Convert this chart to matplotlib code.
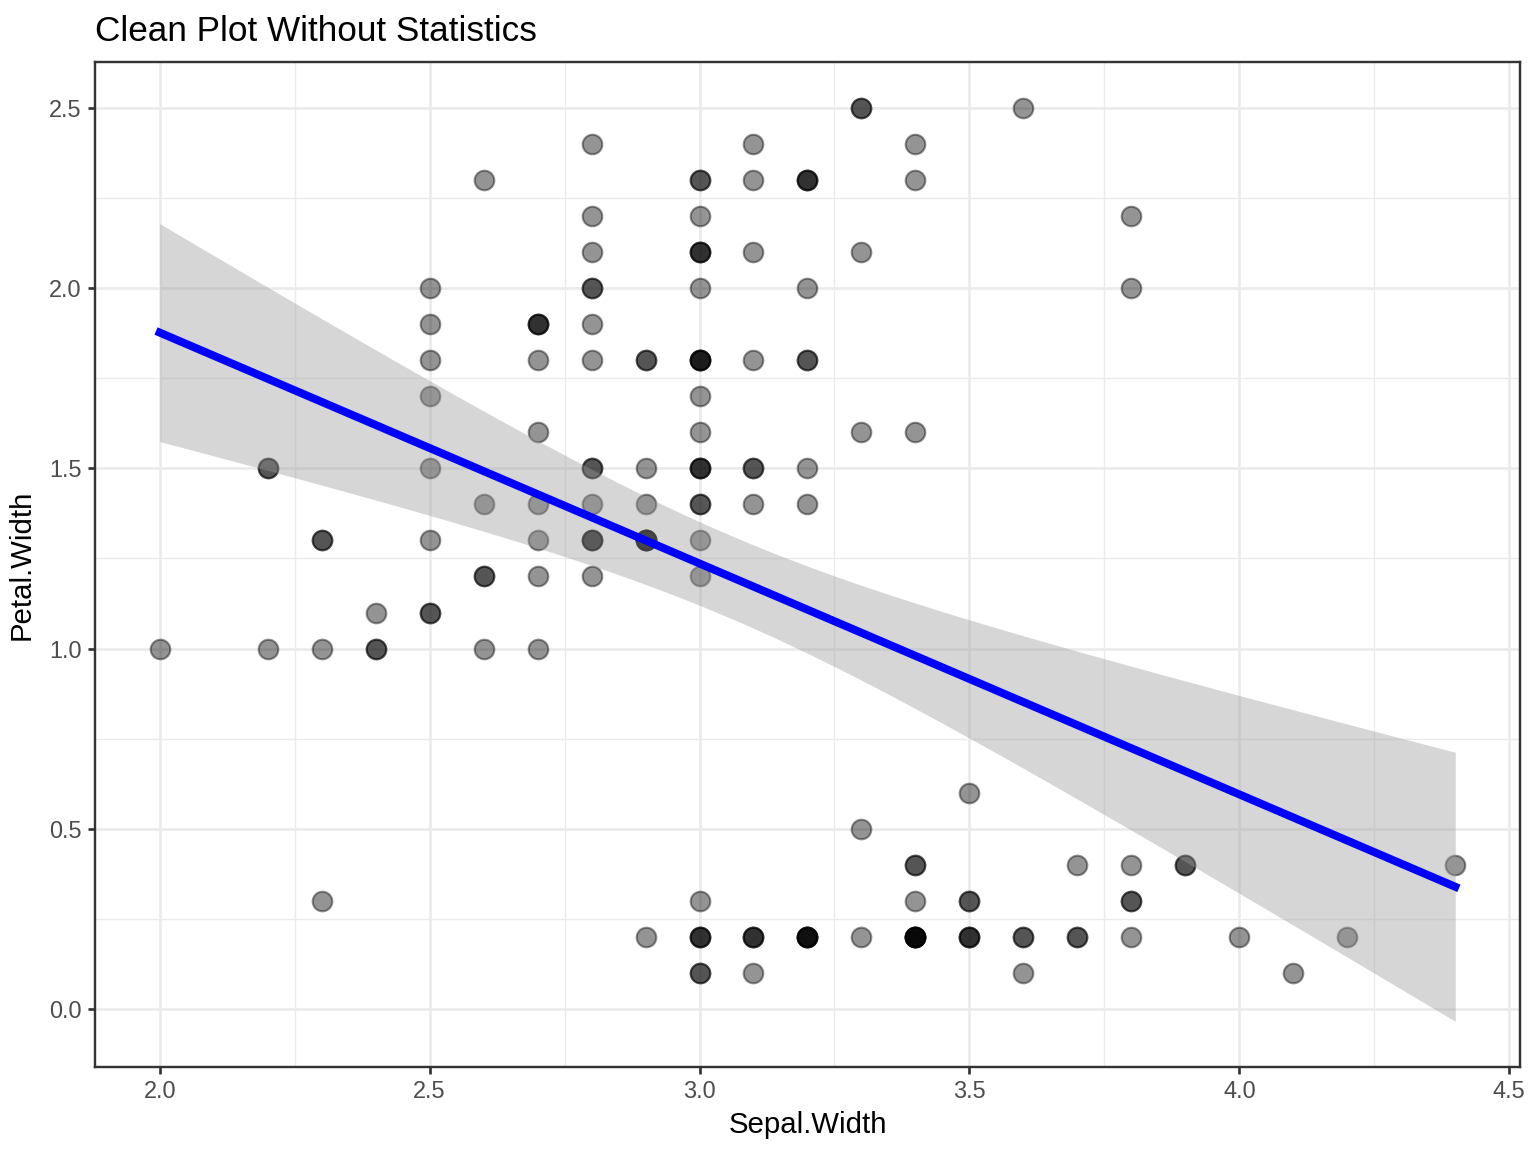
import matplotlib.pyplot as plt
import numpy as np

plt.rcParams['font.family'] = ['Liberation Sans', 'DejaVu Sans']

# iris: Sepal.Width and Petal.Width (150 rows, setosa / versicolor / virginica)
sepal_width = [
    3.5, 3.0, 3.2, 3.1, 3.6, 3.9, 3.4, 3.4, 2.9, 3.1, 3.7, 3.4, 3.0, 3.0, 4.0, 4.4, 3.9, 3.5, 3.8, 3.8,
    3.4, 3.7, 3.6, 3.3, 3.4, 3.0, 3.4, 3.5, 3.4, 3.2, 3.1, 3.4, 4.1, 4.2, 3.1, 3.2, 3.5, 3.6, 3.0, 3.4,
    3.5, 2.3, 3.2, 3.5, 3.8, 3.0, 3.8, 3.2, 3.7, 3.3,
    3.2, 3.2, 3.1, 2.3, 2.8, 2.8, 3.3, 2.4, 2.9, 2.7, 2.0, 3.0, 2.2, 2.9, 2.9, 3.1, 3.0, 2.7, 2.2, 2.5,
    3.2, 2.8, 2.5, 2.8, 2.9, 3.0, 2.8, 3.0, 2.9, 2.6, 2.4, 2.4, 2.7, 2.7, 3.0, 3.4, 3.1, 2.3, 3.0, 2.5,
    2.6, 3.0, 2.6, 2.3, 2.7, 3.0, 2.9, 2.9, 2.5, 2.8,
    3.3, 2.7, 3.0, 2.9, 3.0, 3.0, 2.5, 2.9, 2.5, 3.6, 3.2, 2.7, 3.0, 2.5, 2.8, 3.2, 3.0, 3.8, 2.6, 2.2,
    3.2, 2.8, 2.8, 2.7, 3.3, 3.2, 2.8, 3.0, 2.8, 3.0, 2.8, 3.8, 2.8, 2.8, 2.6, 3.0, 3.4, 3.1, 3.0, 3.1,
    3.1, 3.1, 2.7, 3.2, 3.3, 3.0, 2.5, 3.0, 3.4, 3.0,
]
petal_width = [
    0.2, 0.2, 0.2, 0.2, 0.2, 0.4, 0.3, 0.2, 0.2, 0.1, 0.2, 0.2, 0.1, 0.1, 0.2, 0.4, 0.4, 0.3, 0.3, 0.3,
    0.2, 0.4, 0.2, 0.5, 0.2, 0.2, 0.4, 0.2, 0.2, 0.2, 0.2, 0.4, 0.1, 0.2, 0.2, 0.2, 0.2, 0.1, 0.2, 0.2,
    0.3, 0.3, 0.2, 0.6, 0.4, 0.3, 0.2, 0.2, 0.2, 0.2,
    1.4, 1.5, 1.5, 1.3, 1.5, 1.3, 1.6, 1.0, 1.3, 1.4, 1.0, 1.5, 1.0, 1.4, 1.3, 1.4, 1.5, 1.0, 1.5, 1.1,
    1.8, 1.3, 1.5, 1.2, 1.3, 1.4, 1.4, 1.7, 1.5, 1.0, 1.1, 1.0, 1.2, 1.6, 1.5, 1.6, 1.5, 1.3, 1.3, 1.3,
    1.2, 1.4, 1.2, 1.0, 1.3, 1.2, 1.3, 1.3, 1.1, 1.3,
    2.5, 1.9, 2.1, 1.8, 2.2, 2.1, 1.7, 1.8, 1.8, 2.5, 2.0, 1.9, 2.1, 2.0, 2.4, 2.3, 1.8, 2.2, 2.3, 1.5,
    2.3, 2.0, 2.0, 1.8, 2.1, 1.8, 1.8, 1.8, 2.1, 1.6, 1.9, 2.0, 2.2, 1.5, 1.4, 2.3, 2.4, 1.8, 1.8, 2.1,
    2.4, 2.3, 1.9, 2.3, 2.5, 2.3, 1.9, 2.0, 2.3, 1.8,
]

x = np.array(sepal_width)
y = np.array(petal_width)
n = len(x)

# linear fit with 95% confidence band (like geom_smooth(method = "lm"))
slope, intercept = np.polyfit(x, y, 1)
resid = y - (intercept + slope * x)
s = np.sqrt(np.sum(resid ** 2) / (n - 2))
t_crit = 1.9761  # t(0.975, df = 148)
xs = np.linspace(x.min(), x.max(), 80)
ys = intercept + slope * xs
se = s * np.sqrt(1 / n + (xs - x.mean()) ** 2 / np.sum((x - x.mean()) ** 2))
lo = ys - t_crit * se
hi = ys + t_crit * se

fig = plt.figure(figsize=(8, 6), dpi=192)
ax = fig.add_axes([0.0618, 0.0738, 0.9278, 0.8724])

ax.scatter(x, y, s=54, facecolor='black', edgecolor='black', linewidths=0.8,
           alpha=0.42, zorder=2)
# ribbon drawn over the points, as ggplot does
ax.fill_between(xs, lo, hi, color='#999999', alpha=0.4, linewidth=0, zorder=3)
ax.plot(xs, ys, color='blue', linewidth=3.0, zorder=4)

# limits with ggplot-style 5% expansion
xmin, xmax = x.min(), x.max()
ymin, ymax = min(y.min(), lo.min()), max(y.max(), hi.max())
ax.set_xlim(xmin - 0.05 * (xmax - xmin), xmax + 0.05 * (xmax - xmin))
ax.set_ylim(ymin - 0.05 * (ymax - ymin), ymax + 0.05 * (ymax - ymin))

xt = [2.0, 2.5, 3.0, 3.5, 4.0, 4.5]
yt = [0.0, 0.5, 1.0, 1.5, 2.0, 2.5]
ax.set_xticks(xt)
ax.set_yticks(yt)
ax.set_xticklabels([f'{v:.1f}' for v in xt])
ax.set_yticklabels([f'{v:.1f}' for v in yt])
ax.set_xticks(np.arange(2.25, 4.5, 0.5), minor=True)
ax.set_yticks(np.arange(0.25, 2.5, 0.5), minor=True)

ax.grid(which='major', color='#ebebeb', linewidth=1.0, zorder=0)
ax.grid(which='minor', color='#ebebeb', linewidth=0.5, zorder=0)
ax.set_axisbelow(True)

ax.tick_params(which='major', length=2.75, width=1.0, color='#333333',
               labelsize=8.8, labelcolor='#4d4d4d', pad=2.2)
ax.tick_params(which='minor', length=0)
for sp in ax.spines.values():
    sp.set_color('#333333')
    sp.set_linewidth(0.9)

ax.set_xlabel('Sepal.Width', fontsize=11, labelpad=3)
ax.set_ylabel('Petal.Width', fontsize=11, labelpad=5)
ax.set_title('Clean Plot Without Statistics', fontsize=13.2, loc='left', pad=8)

fig.savefig('out.png', dpi=192)
